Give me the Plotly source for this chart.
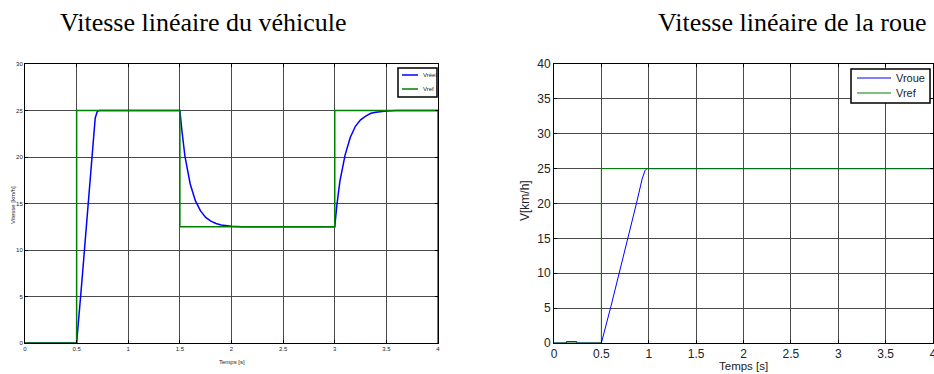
import plotly.graph_objects as go

# ---- Left chart data: vehicle linear speed ----
t_ref_veh = [0, 0.5, 0.5, 1.5, 1.5, 3.0, 3.0, 4.0, 4.0]
v_ref_veh = [0, 0, 25, 25, 12.5, 12.5, 25, 25, 0]

t_reel = [0, 0.5, 0.55, 0.6, 0.65, 0.68, 0.7, 0.72, 0.75, 1.5, 1.52, 1.55, 1.6, 1.65,
          1.7, 1.75, 1.8, 1.85, 1.9, 1.95, 2.0, 2.1, 2.2, 3.0, 3.02, 3.05, 3.1, 3.15,
          3.2, 3.25, 3.3, 3.35, 3.4, 3.5, 3.6, 4.0]
v_reel = [0, 0, 6.5, 13.0, 20.0, 24.2, 24.9, 25.0, 25.0, 25.0, 22.8, 20.0, 17.1, 15.3,
          14.2, 13.5, 13.1, 12.85, 12.7, 12.6, 12.55, 12.5, 12.5, 12.5, 14.8, 17.4, 20.2, 22.1,
          23.3, 24.0, 24.4, 24.7, 24.8, 24.95, 25.0, 25.0]

# ---- Right chart data: wheel linear speed ----
t_ref_roue = [0, 0.5, 0.5, 4.0]
v_ref_roue = [0, 0, 25, 25]

t_roue = [0, 0.13, 0.13, 0.24, 0.24, 0.5, 0.6, 0.7, 0.8, 0.87, 0.93, 0.96, 0.98, 4.0]
v_roue = [0, 0, 0.2, 0.2, 0, 0, 5.2, 10.6, 16.0, 20.0, 23.5, 24.7, 25.0, 25.0]

x_ticks = [0, 0.5, 1, 1.5, 2, 2.5, 3, 3.5, 4]
x_tick_text = ["0", "0.5", "1", "1.5", "2", "2.5", "3", "3.5", "4"]
y_ticks_left = [0, 5, 10, 15, 20, 25, 30]
y_ticks_right = [0, 5, 10, 15, 20, 25, 30, 35, 40]

legend_left = ["Vréel", "Vref"]
legend_right = ["Vroue", "Vref"]

W, H = 934, 374
BLUE = "#0000ff"
GREEN = "#008000"
GRID = "#4a4a4a"
SANS = "Liberation Sans, Arial, sans-serif"
SERIF = "Liberation Serif, Times New Roman, serif"

fig = go.Figure()
fig.add_trace(go.Scatter(x=t_reel, y=v_reel, mode="lines", name=legend_left[0],
                         line=dict(color=BLUE, width=1.5), xaxis="x", yaxis="y"))
fig.add_trace(go.Scatter(x=t_ref_veh, y=v_ref_veh, mode="lines", name=legend_left[1],
                         line=dict(color=GREEN, width=1.5), xaxis="x", yaxis="y"))
fig.add_trace(go.Scatter(x=t_roue, y=v_roue, mode="lines", name=legend_right[0],
                         line=dict(color=BLUE, width=1), xaxis="x2", yaxis="y2"))
fig.add_trace(go.Scatter(x=t_ref_roue, y=v_ref_roue, mode="lines", name=legend_right[1],
                         line=dict(color=GREEN, width=1), xaxis="x2", yaxis="y2"))

ybot = (H - 343) / H
ytop = (H - 64) / H

def ax(domain, rng, ticks, text, size, anchor):
    return dict(domain=domain, range=rng, tickvals=ticks, ticktext=text,
                showgrid=True, gridcolor=GRID, gridwidth=1, zeroline=False,
                showline=True, linecolor="black", linewidth=1, mirror="allticks",
                ticks="inside", ticklen=3, tickcolor="black", automargin=False,
                ticklabeloverflow="allow",
                tickfont=dict(family=SANS, size=size, color="#222"), anchor=anchor,
                fixedrange=True)

fig.update_layout(
    width=W, height=H,
    margin=dict(l=0, r=0, t=0, b=0, autoexpand=False),
    paper_bgcolor="white", plot_bgcolor="white",
    xaxis=ax([25 / W, 438 / W], [0, 4], x_ticks, x_tick_text, 6, "y"),
    yaxis=ax([ybot, ytop], [0, 30], y_ticks_left, [str(v) for v in y_ticks_left], 6, "x"),
    xaxis2=ax([554 / W, 933 / W], [0, 4], x_ticks, x_tick_text, 12, "y2"),
    yaxis2=ax([ybot, ytop], [0, 40], y_ticks_right, [str(v) for v in y_ticks_right], 12, "x2"),
    showlegend=False,
)

def px(x):
    return x / W

def py(y):
    return (H - y) / H

shapes = []
annotations = []

def legend_box(x0, x1, y0, y1, line_x0, line_x1, rows, names, colors, size, bw, lw):
    shapes.append(dict(type="rect", xref="paper", yref="paper", x0=px(x0), x1=px(x1),
                       y0=py(y1), y1=py(y0), line=dict(color="black", width=bw),
                       fillcolor="white", layer="above"))
    for r, n, c in zip(rows, names, colors):
        shapes.append(dict(type="line", xref="paper", yref="paper", x0=px(line_x0), x1=px(line_x1),
                           y0=py(r), y1=py(r), line=dict(color=c, width=lw), layer="above"))
        annotations.append(dict(text=n, x=px(line_x1 + 3), y=py(r), xref="paper", yref="paper",
                                showarrow=False, xanchor="left", yanchor="middle",
                                font=dict(family=SANS, size=size, color="#222")))

legend_box(398, 437, 68, 97, 402, 418, [75, 89], legend_left, [BLUE, GREEN], 6, 1.5, 1.5)
legend_box(851, 930, 69, 103, 857, 891, [78, 93], legend_right, [BLUE, GREEN], 11, 1.5, 1)

annotations += [
    dict(text="Vitesse linéaire du véhicule", x=203 / W, y=(H - 22) / H, xref="paper", yref="paper",
         showarrow=False, font=dict(family=SERIF, size=26, color="black"), xanchor="center", yanchor="middle"),
    dict(text="Vitesse linéaire de la roue", x=792 / W, y=(H - 22) / H, xref="paper", yref="paper",
         showarrow=False, font=dict(family=SERIF, size=26, color="black"), xanchor="center", yanchor="middle"),
    dict(text="Temps [s]", x=232 / W, y=(H - 362) / H, xref="paper", yref="paper",
         showarrow=False, font=dict(family=SANS, size=6, color="#222"), xanchor="center", yanchor="middle"),
    dict(text="Vitesse [km/h]", x=13 / W, y=(H - 205) / H, xref="paper", yref="paper", textangle=-90,
         showarrow=False, font=dict(family=SANS, size=6, color="#222"), xanchor="center", yanchor="middle"),
    dict(text="Temps [s]", x=743 / W, y=(H - 366) / H, xref="paper", yref="paper",
         showarrow=False, font=dict(family=SANS, size=11.5, color="#222"), xanchor="center", yanchor="middle"),
    dict(text="V[km/h]", x=525 / W, y=(H - 201) / H, xref="paper", yref="paper", textangle=-90,
         showarrow=False, font=dict(family=SANS, size=12, color="#222"), xanchor="center", yanchor="middle"),
]
fig.update_layout(annotations=annotations, shapes=shapes)

fig.write_html("out.html", config={"displayModeBar": False},
               post_script="document.body.style.margin='0';document.body.style.overflow='hidden';")
